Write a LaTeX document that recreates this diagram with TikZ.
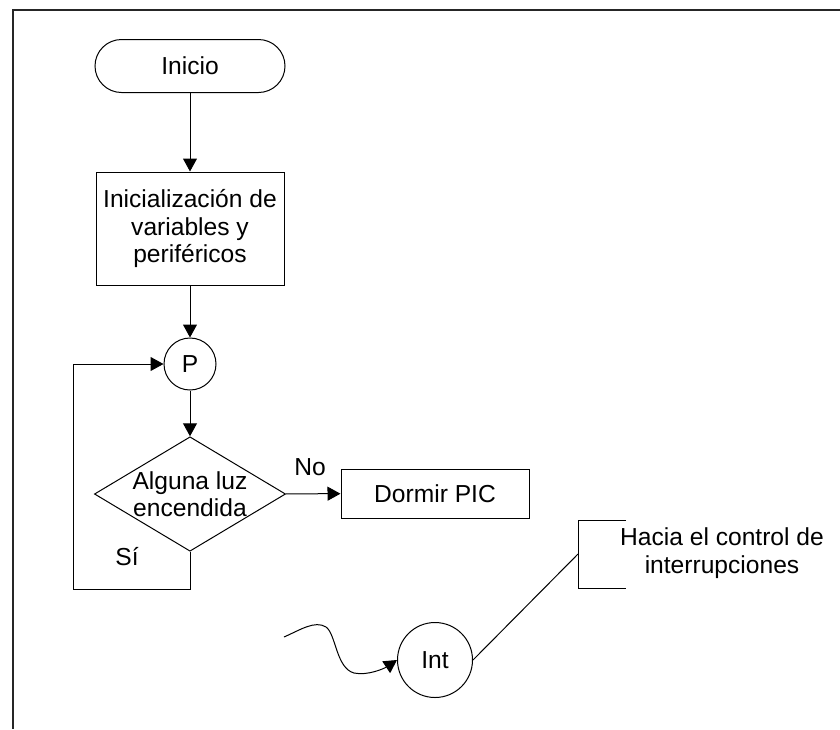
\documentclass[tikz,border=0pt]{standalone}
\usepackage{fontspec}
\setmainfont{Liberation Sans}
\usetikzlibrary{arrows.meta,shapes.geometric}

\begin{document}
\begin{tikzpicture}[x=0.5pt,y=-0.5pt,>={Triangle[length=6.5pt,width=7pt]},
	font=\fontsize{12.3}{13.8}\selectfont,line width=0.5pt]

\useasboundingbox (0,0) rectangle (840,729);
\draw [line width=1pt,black!85] (840,10) -- (12.5,10) -- (12.5,729);

\node [draw,rounded corners=13.25pt,minimum width=95pt,minimum height=26.5pt] (inicio) at (190,66) {Inicio};
\node [draw,align=center,minimum width=94pt,minimum height=56.5pt,inner sep=0pt] (init) at (190,228.5) {Inicialización de\\variables y\\periféricos};
\node [draw,circle,minimum size=26pt,inner sep=0pt] (p) at (190,364) {P};
\node [draw,diamond,aspect=1.67,align=center,inner sep=0pt,minimum width=94.5pt,minimum height=56.5pt] (luz) at (190,494) {Alguna luz\\encendida};
\node [draw,minimum width=94pt,minimum height=24.5pt] (dormir) at (435,493.5) {Dormir PIC};
\node [draw,circle,minimum size=37.5pt,inner sep=0pt] (int) at (435,660) {Int};
\node [align=center] (nota) at (722,553) {Hacia el control de\\interrupciones};

\node () at (310,467) {No};
\node () at (127,557) {Sí};

\coordinate (lazo) at (73,589);
\coordinate (brk) at (578,554);
\coordinate (onda) at (284,637);

\draw [->] (inicio) -- (init);
\draw [->] (init) -- (p);
\draw [->] (p) -- (luz);
\draw [->] (luz) -- (dormir);
\draw [->] (luz.south) |- (lazo) |- (p.west);

% nota de interrupciones
\draw (626,520) -- (578,520) -- (578,588) -- (626,588);
\draw (int.east) -- (brk);
\draw [->] (onda) .. controls (300,630) and (315,620) .. (326,627)
	.. controls (336,634) and (336,668) .. (354,673)
	.. controls (368,676) and (385,668) .. (int.west);

\end{tikzpicture}
\end{document}
